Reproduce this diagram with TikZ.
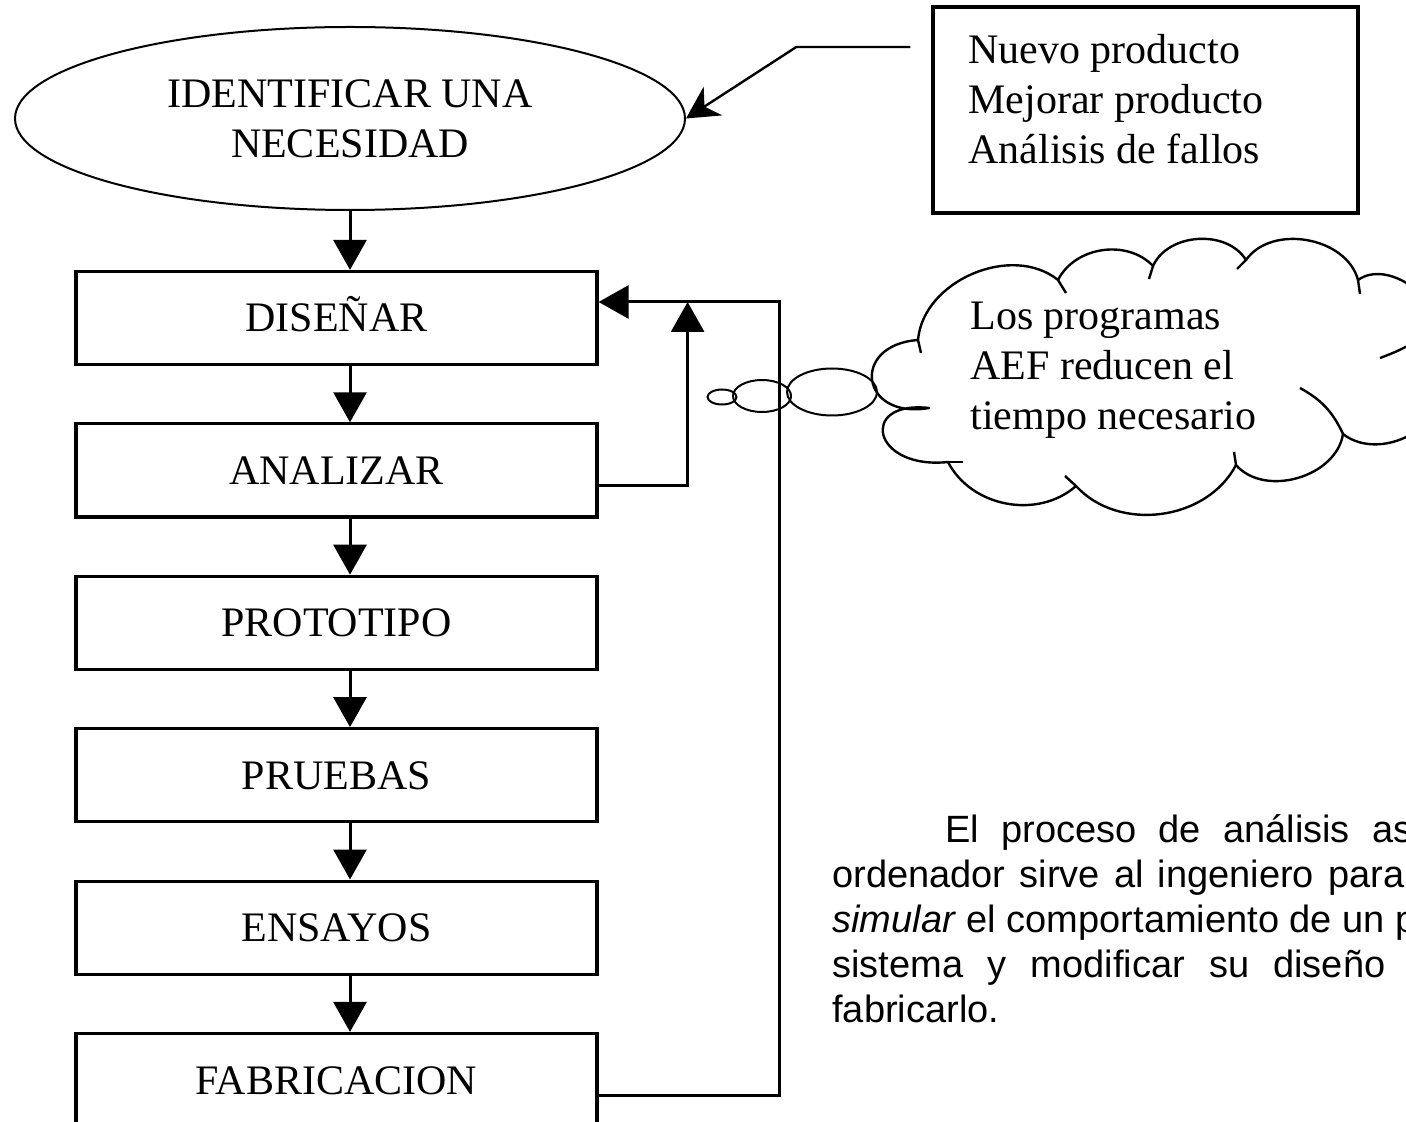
\documentclass[tikz,border=0pt]{standalone}
\usepackage{fontspec}
\setmainfont{Liberation Serif}
\setsansfont{Liberation Sans}
\usetikzlibrary{positioning,arrows.meta,calc,shapes.geometric}

\begin{document}
\begin{tikzpicture}[
  x=0.5pt, y=-0.5pt,
  % one step of the design process
  stage/.style={draw, line width=1.6pt, minimum width=260.5pt,
                minimum height=46.5pt, inner sep=0pt, text height=14pt,
                text depth=0pt, font=\fontsize{21}{25}\selectfont},
  goal/.style={ellipse, draw, line width=1pt, minimum width=335pt,
               minimum height=91.5pt, inner sep=0pt, align=center,
               font=\fontsize{21}{25}\selectfont},
  callbox/.style={draw, line width=1.7pt, minimum width=212.5pt,
                  minimum height=103pt, inner sep=0pt},
  txt/.style={anchor=north west, inner sep=0pt, align=left,
              font=\fontsize{21}{25}\selectfont},
  flow/.style={line width=1.5pt, -{Triangle[length=15pt, width=16.5pt]}},
  pointer/.style={line width=1.2pt,
                  -{Stealth[length=16pt, width=17pt, inset=5pt]}},
  bubble/.style={ellipse, draw, line width=1pt, inner sep=0pt},
  puff/.style={line width=1.2pt, line join=round},
  para/.style={anchor=base west, inner sep=0pt,
               font=\fontsize{19}{23}\selectfont\sffamily}
]
\useasboundingbox (0,0) rectangle (1406,1122);
\clip (0,0) rectangle (1406,1122);

% ══ the chain of steps ═════════════════════════════════════════════════════
\node[goal] (idn) at (350,118.5) {IDENTIFICAR UNA\\NECESIDAD};
\foreach \nm/\txt [count=\i from 0] in
    {dis/DISEÑAR, ana/ANALIZAR, pro/PROTOTIPO, pru/PRUEBAS,
     ens/ENSAYOS, fab/FABRICACION}{
  \node[stage] (\nm) at (336.5,318+152.4*\i) {\txt};
}

\draw[flow] (idn.south) -- (idn.south |- dis.north);
\foreach \a/\b in {dis/ana, ana/pro, pro/pru, pru/ens, ens/fab}{
  \draw[flow] (idn.south |- \a.south) -- (idn.south |- \b.north);
}

% ══ feedback loops back into DISEÑAR ══════════════════════════════════════
\draw[flow] ($(fab.east)+(0,15)$) -- ++(181,0) |- ($(dis.east)+(0,-16)$);
\draw[flow] ($(ana.east)+(0,15)$) -| ($(dis.east)+(89,-16)$);

% ══ where a need comes from ════════════════════════════════════════════════
\node[callbox] (src) at (1145.5,110) {};
\node[txt] (srctxt) at (968,34) {Nuevo producto\\Mejorar producto\\Análisis de fallos};
\draw[pointer] ($(src.west)+(-21,-63)$) -- ++(-114,0) -- (idn.east);

% ══ thought cloud ══════════════════════════════════════════════════════════
\node[bubble, minimum width=14.5pt, minimum height=7.5pt] (b1) at (722,397) {};
\node[bubble, minimum width=29pt, minimum height=16pt] (b2) at (762,396) {};
\node[bubble, minimum width=45pt, minimum height=23.5pt] (b3) at (832,392) {};

% puffs run clockwise from the upper left one
\draw[puff] (918,340)
  to[bend left=62] (1058,280)
  to[bend left=55] (1153,266)
  to[bend left=62] (1246,260)
  to[bend left=65] (1358,280)
  to[bend left=70] (1432,330)
  to[bend left=60] (1440,395)
  to[bend left=60] (1343,434)
  to[bend left=65] (1236,465)
  to[bend left=55] (1076,486)
  to[bend left=52] (948,462)
  .. controls (872,470) and (858,400) .. (929,408)
  .. controls (860,420) and (850,345) .. (918,340);
% short inner ends where two puffs meet
\foreach \ax/\ay/\bx/\by in {1058/280/1066/293, 1153/266/1149/279,
    1246/260/1237/269, 1358/280/1360/294, 1236/465/1234/452,
    1076/486/1065/476, 948/462/963/462, 918/340/921/353}{
  \draw[puff] (\ax,\ay) -- (\bx,\by);
}
\draw[puff] (1343,434) to[bend right=18] (1300,388);
\draw[puff] (1432,330) to[bend left=8] (1380,358);
\node[txt] (aef) at (970,302) {Los programas\\AEF reducen el\\tiempo necesario};

% ══ paragraph beside the chart, cut at the right margin ═══════════════════
\node[para] (p1) at (945,842) {\makebox[233.5pt][s]{El proceso de análisis as}};
\node[para] (p2) at (832,887) {\makebox[286pt][s]{ordenador sirve al ingeniero para}};
\node[para] (p3) at (832,932) {\textit{simular} el comportamiento de un p};
\node[para] (p4) at (832,977) {\makebox[276.5pt][s]{sistema y modificar su diseño}};
\node[para] (p5) at (832,1022) {fabricarlo.};

\end{tikzpicture}
\end{document}
